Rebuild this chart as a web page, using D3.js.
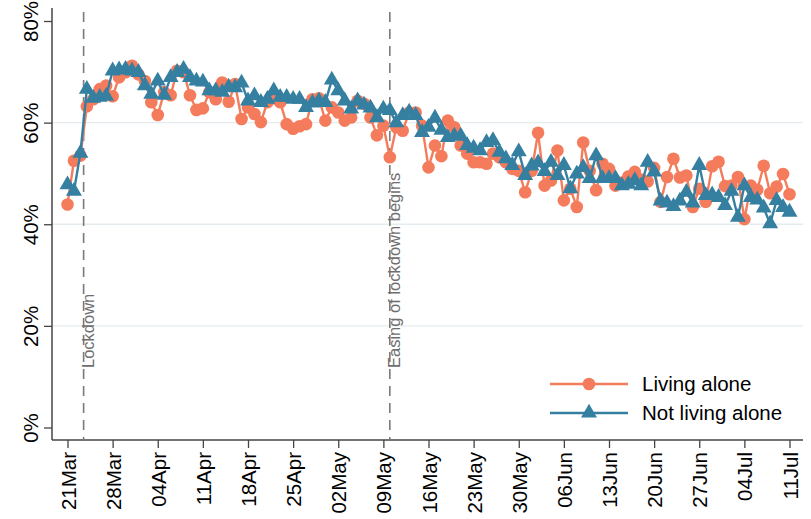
<!DOCTYPE html>
<html><head><meta charset="utf-8">
<script src="https://cdn.jsdelivr.net/npm/d3@7"></script>
<style>body{margin:0;background:#fff}svg{display:block;font-family:"Liberation Sans",Arial,sans-serif}</style>
</head><body><svg id="c" width="811" height="519"></svg>
<script>
// Daily series starting 21 Mar 2020
const startDate = "2020-03-21";
const livingAlone = [43.9,52.5,53.5,63.2,64.6,66.6,67.3,65.2,68.9,69.9,71.2,69.5,68.2,64,61.5,66,65.4,70.2,69.9,65.4,62.5,62.8,66,64.6,67.9,64.1,67.6,60.7,63,61.7,60.1,64,64.8,64,59.7,58.8,59.3,59.7,
64.6,64.8,60.4,63,62,60.4,61,64.3,63.7,61,57.5,59.4,53.2,59.1,58.4,62,62,59.4,51.2,55.5,53.4,60.4,59.1,55.5,53.9,52.2,52.2,51.9,53.9,53.2,52.2,50.9,50.5,46.3,50.5,58,
47.6,48.6,54.5,44.7,47,43.4,56.1,50.5,46.7,51.9,50.9,47.6,48.2,49.4,50.3,48.8,48.4,51.1,44.4,49.3,52.9,49.2,49.6,43.4,47,44.4,51.4,52.3,47.5,47.6,49.3,41,47.6,46.8,51.5,46.1,47.4,49.9,45.9];
const notLivingAlone = [47.8,46.5,54,66.6,64.8,65,65.2,70.2,70.4,70.5,70.2,69.9,67.3,65.6,68.2,65.4,68.9,69.9,70.5,68.9,68.2,68,66.3,66.3,66,67,66.9,67.8,64.3,65.3,64,64.6,66.3,65,65,64.6,64.6,63,
63.9,64.3,64,68.4,66.3,64.3,62.7,64.3,63.5,62.9,61,62.7,62.4,60,61.4,62.1,61.4,58.1,59.1,60.9,58.5,57.1,57.4,57.4,55.5,55,54.5,56.1,56.5,54.2,52.9,51.6,54.3,49.6,51.5,52.1,
50.4,52.2,49.6,51.6,47,49.9,51.2,49,53.5,49,49,49,47.6,47.9,48.6,47.6,52.2,50.3,44.6,44.2,43.5,44.6,46.3,44.2,51.6,45.7,45.8,45.3,43.7,46.5,41.4,47.6,45.3,44.8,43.2,40.1,44.7,43.3,42.4];
const seriesNames = ["Living alone","Not living alone"];
const yTicks = [0,20,40,60,80];
const xTickLabels = ["21Mar","28Mar","04Apr","11Apr","18Apr","25Apr","02May","09May","16May","23May","30May","06Jun","13Jun","20Jun","27Jun","04Jul","11Jul"];
const events = [{date:"2020-03-23T12:00", label:"Lockdown"},{date:"2020-05-10T00:00", label:"Easing of lockdown begins"}];

const colors = ["#f47c5c","#357fa1"];
const svg = d3.select("#c");
const parse = d3.timeParse("%Y-%m-%d");
const parseT = d3.timeParse("%Y-%m-%dT%H:%M");
const d0 = parse(startDate);
const dates = livingAlone.map((_, i) => d3.timeDay.offset(d0, i));

const x = d3.scaleTime().domain([d0, dates[dates.length-1]]).range([67.5, 789.5]);
const y = d3.scaleLinear().domain([0, 80]).range([427.5, 21]);
const pLeft = 52, pRight = 803, pBottom = 440, pTop = 8;

// gridlines (not at axis extremes)
svg.append("g").selectAll("line").data(yTicks.filter(t => t>0 && t<80)).join("line")
  .attr("x1", pLeft).attr("x2", pRight).attr("y1", d=>y(d)).attr("y2", d=>y(d))
  .attr("stroke", "#e4ecef").attr("stroke-width", 1.3);

// y axis
const ya = svg.append("g").attr("transform", `translate(${pLeft},0)`)
  .call(d3.axisLeft(y).tickValues(yTicks).tickSize(8).tickFormat(d => d + "%"));
ya.select(".domain").attr("d", `M0,${pTop}V${pBottom}`).attr("stroke", "#444").attr("stroke-width", 1.5);
ya.selectAll(".tick line").attr("stroke", "#444").attr("stroke-width", 1.3);
ya.selectAll(".tick text").attr("font-size", 20.5).attr("fill", "#000")
  .attr("text-anchor", "middle").attr("x", null).attr("dy", null)
  .attr("transform", "translate(-14,0) rotate(-90)");

// x axis
const xTickDates = xTickLabels.map((_, i) => d3.timeDay.offset(d0, i*7));
const xa = svg.append("g").attr("transform", `translate(0,${pBottom})`)
  .call(d3.axisBottom(x).tickValues(xTickDates).tickSize(8).tickFormat((d,i) => xTickLabels[i]));
xa.select(".domain").attr("d", `M${pLeft},0H${pRight}`).attr("stroke", "#444").attr("stroke-width", 1.5);
xa.selectAll(".tick line").attr("stroke", "#444").attr("stroke-width", 1.3);
xa.selectAll(".tick text").attr("font-size", 20.5).attr("fill", "#000")
  .attr("text-anchor", "end").attr("y", null).attr("dy", null)
  .attr("transform", "translate(7.5,12) rotate(-90)");

// event lines
events.forEach(e => {
  const ex = x(parseT(e.date));
  svg.append("line").attr("x1", ex).attr("x2", ex).attr("y1", pTop+4).attr("y2", pBottom)
    .attr("stroke", "#7a7a7a").attr("stroke-width", 1.6).attr("stroke-dasharray", "10,7");
  svg.append("text").attr("transform", `translate(${ex+10},368) rotate(-90)`)
    .attr("font-size", 16.5).attr("fill", "#6e6e6e").text(e.label);
});

// series
const allSeries = [livingAlone, notLivingAlone];
const line = d3.line().x((d,i) => x(dates[i])).y(d => y(d));
const tri = d3.symbol().type(d3.symbolTriangle).size(110);
allSeries.forEach((s, k) => {
  const g = svg.append("g");
  g.append("path").attr("d", line(s)).attr("fill", "none").attr("stroke", colors[k]).attr("stroke-width", 2.4);
  if (k === 0) {
    g.selectAll("circle").data(s).join("circle").attr("cx", (d,i)=>x(dates[i])).attr("cy", d=>y(d))
      .attr("r", 6.3).attr("fill", colors[k]);
  } else {
    g.selectAll("path.m").data(s).join("path").attr("class","m").attr("d", tri)
      .attr("transform", (d,i)=>`translate(${x(dates[i])},${y(d)})`).attr("fill", colors[k]);
  }
});

// legend
const lg = svg.append("g");
[384, 413].forEach((ly, k) => {
  lg.append("line").attr("x1", 550).attr("x2", 628).attr("y1", ly).attr("y2", ly)
    .attr("stroke", colors[k]).attr("stroke-width", 2.4);
  if (k === 0) lg.append("circle").attr("cx", 589).attr("cy", ly).attr("r", 6.3).attr("fill", colors[k]);
  else lg.append("path").attr("d", tri).attr("transform", `translate(589,${ly})`).attr("fill", colors[k]);
  lg.append("text").attr("x", 642).attr("y", ly + 7).attr("font-size", 20.5).attr("fill", "#000").text(seriesNames[k]);
});
</script></body></html>
